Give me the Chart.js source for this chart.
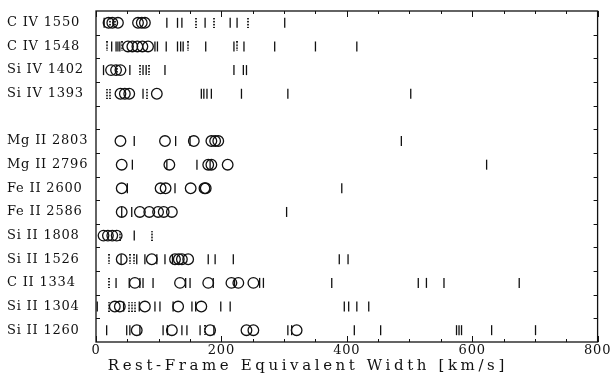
<!DOCTYPE html>
<html>
<head>
<meta charset="utf-8">
<script src="https://cdn.jsdelivr.net/npm/chart.js@4/dist/chart.umd.min.js"></script>
<style>
  html, body { margin: 0; padding: 0; background: #fff; }
  #wrap { width: 611px; height: 375px; }
</style>
</head>
<body>
<div id="wrap"><canvas id="chart" width="611" height="375"></canvas></div>
<script>
// Absorption lines, top to bottom
const lineLabels = ['C IV 1550', 'C IV 1548', 'Si IV 1402', 'Si IV 1393',
  'Mg II 2803', 'Mg II 2796', 'Fe II 2600', 'Fe II 2586', 'Si II 1808',
  'Si II 1526', 'C II 1334', 'Si II 1304', 'Si II 1260'];
// Row slot of each line (slot 4 left empty between high and low ions)
const rowSlots = [0, 1, 2, 3, 5, 6, 7, 8, 9, 10, 11, 12, 13];

// Measured rest-frame equivalent widths [km/s] (circles)
const detectedWidths = [
  [20, 26, 35, 67, 73, 78],
  [51, 58, 66, 74, 83],
  [24, 32, 39],
  [39, 46, 53, 97],
  [39, 110, 156, 184, 190, 195],
  [41, 117, 179, 184, 210],
  [41, 103, 111, 151, 173, 175],
  [41, 70, 85, 99, 108, 121],
  [12, 19, 26, 33],
  [41, 89, 126, 132, 137, 147],
  [62, 134, 179, 216, 227, 251],
  [30, 38, 78, 131, 168],
  [65, 121, 182, 240, 251, 320]
];

// Upper limits [km/s] (solid bars)
const upperLimits = [
  [13, 113, 130, 137, 174, 214, 225, 301],
  [25, 32, 35, 38, 94, 98, 112, 130, 135, 139, 175, 220, 236, 285, 350, 416],
  [12, 54, 75, 80, 110, 220, 235, 240],
  [75, 168, 172, 177, 184, 232, 306, 502],
  [61, 127, 150, 487],
  [58, 113, 161, 182, 623],
  [50, 126, 392],
  [41, 57, 304],
  [61],
  [40, 65, 78, 97, 110, 122, 179, 190, 219, 388, 402],
  [32, 53, 70, 75, 91, 143, 150, 187, 221, 261, 267, 376, 514, 527, 555, 675],
  [2, 44, 69, 94, 102, 123, 153, 159, 199, 214, 396, 403, 416, 435],
  [17, 49, 54, 70, 107, 114, 137, 145, 166, 188, 306, 312, 412, 454, 575, 579, 583, 631, 701]
];

// Blended / uncertain limits [km/s] (dotted bars)
const blendedLimits = [
  [23, 30, 159, 188, 243],
  [18, 41, 146, 225],
  [34, 70, 85],
  [18, 23, 82],
  [],
  [],
  [],
  [],
  [38, 90],
  [20, 54, 60],
  [20],
  [20, 52, 57, 62],
  [174]
];

const xTickValues = [0, 200, 400, 600, 800];

const ink = '#111';

function toPoints(groups) {
  const pts = [];
  groups.forEach((vals, i) => vals.forEach(v => pts.push({ x: v, y: rowSlots[i] })));
  return pts;
}

// Small dotted vertical bar used as a point marker
function dottedBar() {
  const c = document.createElement('canvas');
  c.width = 2; c.height = 10;
  const g = c.getContext('2d');
  g.fillStyle = '#222';
  for (let y = 0; y < 10; y += 3) g.fillRect(0, y, 2, 1.5);
  return c;
}

// Axis title gets wide letter spacing and sits left of centre;
// tick labels are drawn later (z = 1) with tighter spacing.
const framePlugin = {
  id: 'frame',
  beforeDraw(chart) {
    const ctx = chart.ctx;
    ctx.save();
    ctx.letterSpacing = '3.6px';
    ctx.translate(-39, 0);
  },
  beforeDatasetsDraw(chart) {
    const ctx = chart.ctx;
    ctx.restore();
    ctx.letterSpacing = '0.8px';
  },
  afterDraw(chart) {
    const { ctx, chartArea: a, scales } = chart;
    ctx.save();
    ctx.strokeStyle = ink;
    ctx.lineWidth = 1.3;
    ctx.strokeRect(a.left, a.top, a.right - a.left, a.bottom - a.top);
    ctx.lineWidth = 1;
    ctx.beginPath();
    for (let v = 0; v <= 800; v += 50) {
      const x = Math.round(scales.x.getPixelForValue(v)) + 0.5;
      const len = v % 200 === 0 ? 6 : 3;
      ctx.moveTo(x, a.bottom); ctx.lineTo(x, a.bottom - len);
      ctx.moveTo(x, a.top); ctx.lineTo(x, a.top + len);
    }
    for (let k = 0; k < 13; k++) {
      const y = Math.round(scales.y.getPixelForValue(k + 0.5)) + 0.5;
      ctx.moveTo(a.left, y); ctx.lineTo(a.left + 4, y);
      ctx.moveTo(a.right, y); ctx.lineTo(a.right - 4, y);
    }
    ctx.stroke();
    ctx.restore();
  }
};

Chart.defaults.font.family = '"DejaVu Serif", "Liberation Serif", serif';
Chart.defaults.color = ink;

new Chart(document.getElementById('chart'), {
  type: 'scatter',
  data: {
    datasets: [
      {
        label: 'detections',
        data: toPoints(detectedWidths),
        pointStyle: 'circle',
        pointRadius: 5.3,
        pointBorderWidth: 1.3,
        borderColor: ink,
        backgroundColor: 'rgba(0,0,0,0)'
      },
      {
        label: 'upper limits',
        data: toPoints(upperLimits),
        pointStyle: 'line',
        pointRotation: 90,
        pointRadius: 5,
        pointBorderWidth: 1.3,
        borderColor: ink,
        backgroundColor: ink
      },
      {
        label: 'blended',
        data: toPoints(blendedLimits),
        pointStyle: dottedBar(),
        pointRadius: 5,
        borderColor: ink,
        backgroundColor: ink
      }
    ]
  },
  options: {
    responsive: false,
    animation: false,
    events: [],
    clip: false,
    layout: { padding: { left: 7, right: 13, top: 11, bottom: 0 } },
    plugins: { legend: { display: false }, tooltip: { enabled: false } },
    scales: {
      x: {
        type: 'linear',
        min: 0,
        max: 800,
        afterBuildTicks: s => { s.ticks = xTickValues.map(v => ({ value: v })); },
        afterFit: s => { s.height = 33; },
        grid: { display: false, drawTicks: false },
        border: { display: false },
        ticks: { font: { size: 13 }, padding: 1, z: 1, maxRotation: 0, autoSkip: false },
        title: {
          display: true,
          text: 'Rest-Frame Equivalent Width [km/s]',
          font: { size: 15 },
          padding: { top: 0, bottom: 0 }
        }
      },
      y: {
        type: 'linear',
        reverse: true,
        min: -0.5,
        max: 13.5,
        afterBuildTicks: s => { s.ticks = rowSlots.map(v => ({ value: v })); },
        afterFit: s => { s.width = 89; },
        grid: { display: false, drawTicks: false },
        border: { display: false },
        ticks: {
          font: { size: 13 },
          crossAlign: 'far',
          autoSkip: false,
          z: 1,
          callback: v => lineLabels[rowSlots.indexOf(v)] || ''
        }
      }
    }
  },
  plugins: [framePlugin]
});
</script>
</body>
</html>
